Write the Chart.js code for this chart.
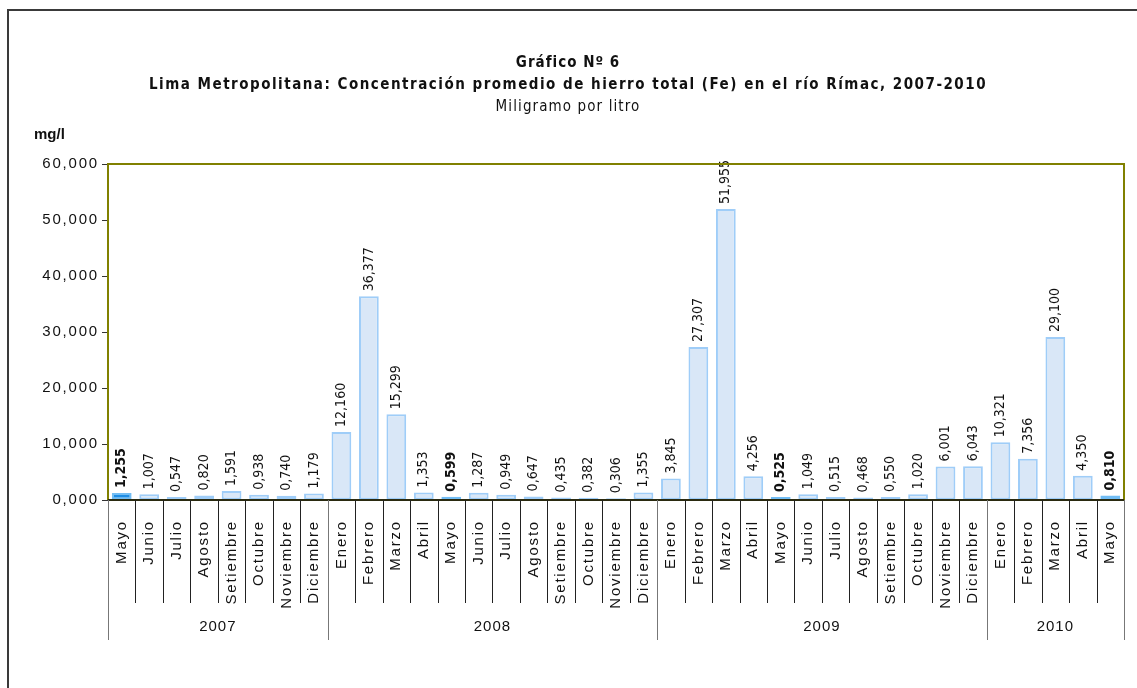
<!DOCTYPE html>
<html><head><meta charset="utf-8">
<script src="https://cdn.jsdelivr.net/npm/chart.js@4/dist/chart.umd.min.js"></script>
<style>html,body{margin:0;padding:0;background:#fff}#wrap{width:1137px;height:688px;position:relative}</style>
</head><body><div id="wrap"><canvas id="c" width="1137" height="688"></canvas></div>
<script>
const months = [
  'Mayo','Junio','Julio','Agosto','Setiembre','Octubre','Noviembre','Diciembre',
  'Enero','Febrero','Marzo','Abril','Mayo','Junio','Julio','Agosto','Setiembre','Octubre','Noviembre','Diciembre',
  'Enero','Febrero','Marzo','Abril','Mayo','Junio','Julio','Agosto','Setiembre','Octubre','Noviembre','Diciembre',
  'Enero','Febrero','Marzo','Abril','Mayo'
];
const values = [
  1.255, 1.007, 0.547, 0.820, 1.591, 0.938, 0.740, 1.179,
  12.160, 36.377, 15.299, 1.353, 0.599, 1.287, 0.949, 0.647, 0.435, 0.382, 0.306, 1.355,
  3.845, 27.307, 51.955, 4.256, 0.525, 1.049, 0.515, 0.468, 0.550, 1.020, 6.001, 6.043,
  10.321, 7.356, 29.100, 4.350, 0.810
];
const years = ['2007','2008','2009','2010'];
const yearSpans = [8, 12, 12, 5];
const yTicks = [0, 10, 20, 30, 40, 50, 60];
const titleLines = ['Gráfico Nº 6', 'Lima Metropolitana: Concentración promedio de hierro total (Fe) en el río Rímac, 2007-2010', 'Miligramo por litro'];
const unitLabel = 'mg/l';

const fmt = v => v.toFixed(3).replace('.', ',');
const isMayo = m => m === 'Mayo';
const NARROW = '"DejaVu Sans Condensed", "Liberation Sans Narrow", Arial';

const decor = {
  id: 'decor',
  beforeDraw(chart) {
    chart.ctx.letterSpacing = '1.8px';
  },
  afterDatasetsDraw(chart) {
    const ctx = chart.ctx;
    const meta = chart.getDatasetMeta(0);
    meta.data.forEach((bar, i) => {
      ctx.save();
      ctx.letterSpacing = '0px';
      ctx.translate(bar.x, bar.y - 5);
      ctx.rotate(-Math.PI / 2);
      ctx.textAlign = 'left';
      ctx.textBaseline = 'middle';
      ctx.fillStyle = '#111';
      ctx.font = (isMayo(months[i]) ? 'bold ' : '') + '14px ' + NARROW;
      ctx.fillText(fmt(values[i]), 0, 0);
      ctx.restore();
    });
  },
  afterDraw(chart) {
    const ctx = chart.ctx;
    const a = chart.chartArea;
    const xs = chart.scales.x;
    ctx.save();
    ctx.letterSpacing = '0px';
    // outer frame
    ctx.strokeStyle = '#3a3a3a';
    ctx.lineWidth = 2;
    ctx.beginPath();
    ctx.moveTo(8, 688); ctx.lineTo(8, 10); ctx.lineTo(1137, 10);
    ctx.stroke();
    // plot border
    ctx.strokeStyle = '#808000';
    ctx.lineWidth = 2;
    ctx.beginPath();
    ctx.moveTo(a.left, a.bottom); ctx.lineTo(a.left, a.top); ctx.lineTo(a.right, a.top); ctx.lineTo(a.right, a.bottom);
    ctx.stroke();
    ctx.strokeStyle = '#2a2a10';
    ctx.beginPath();
    ctx.moveTo(a.left, a.bottom); ctx.lineTo(a.right, a.bottom);
    ctx.stroke();
    // category separators
    const n = months.length;
    const yearBounds = [0];
    yearSpans.forEach(s => yearBounds.push(yearBounds[yearBounds.length - 1] + s));
    ctx.lineWidth = 1;
    for (let i = 0; i <= n; i++) {
      const x = Math.round(xs.getPixelForValue(i - 0.5)) + 0.5;
      const isYear = yearBounds.includes(i);
      ctx.strokeStyle = isYear ? '#777' : '#222';
      ctx.beginPath();
      ctx.moveTo(x, a.bottom);
      ctx.lineTo(x, isYear ? a.bottom + 140 : a.bottom + 103);
      ctx.stroke();
    }
    // year labels
    ctx.letterSpacing = '1px';
    ctx.fillStyle = '#111';
    ctx.font = '15px "Liberation Sans", Arial';
    ctx.textAlign = 'center';
    ctx.textBaseline = 'middle';
    years.forEach((y, k) => {
      const x0 = xs.getPixelForValue(yearBounds[k] - 0.5);
      const x1 = xs.getPixelForValue(yearBounds[k + 1] - 0.5);
      ctx.fillText(y, (x0 + x1) / 2, a.bottom + 127);
    });
    // titles
    ctx.font = 'bold 15px ' + NARROW;
    ctx.letterSpacing = '1px';
    ctx.fillText(titleLines[0], 568, 63);
    ctx.letterSpacing = '1.5px';
    ctx.fillText(titleLines[1], 568, 85);
    ctx.letterSpacing = '1.1px';
    ctx.font = '15px ' + NARROW;
    ctx.fillText(titleLines[2], 568, 107);
    // unit
    ctx.letterSpacing = '0px';
    ctx.textAlign = 'left';
    ctx.font = 'bold 15px "Liberation Sans", Arial';
    ctx.fillText(unitLabel, 34, 135);
    ctx.restore();
  }
};

new Chart(document.getElementById('c'), {
  type: 'bar',
  data: {
    labels: months,
    datasets: [{
      data: values,
      backgroundColor: months.map(m => isMayo(m) ? '#1f8de4' : '#d9e7f7'),
      borderColor: months.map(m => isMayo(m) ? '#72bdf4' : '#9fcdf8'),
      borderWidth: 2,
      borderSkipped: false,
      barPercentage: 0.72,
      categoryPercentage: 1
    }]
  },
  options: {
    responsive: false,
    animation: false,
    devicePixelRatio: 1,
    layout: { padding: { top: 164, left: 0, right: 13, bottom: 48 } },
    plugins: { legend: { display: false }, tooltip: { enabled: false }, title: { display: false } },
    scales: {
      x: {
        grid: { display: false },
        border: { display: false },
        ticks: {
          autoSkip: false, minRotation: 90, maxRotation: 90, padding: 12,
          color: '#111', font: { family: '"Liberation Sans", Arial', size: 15 }
        },
        afterFit: s => { s.height = 140; s.paddingLeft = 0; s.paddingRight = 0; }
      },
      y: {
        min: 0, max: 60,
        afterBuildTicks: s => { s.ticks = yTicks.map(v => ({ value: v })); },
        ticks: {
          padding: 3, color: '#111', font: { family: '"Liberation Sans", Arial', size: 15 },
          callback: v => fmt(v)
        },
        grid: { drawOnChartArea: false, drawTicks: true, tickLength: 6, color: '#333' },
        border: { display: false },
        afterFit: s => { s.width = 108; s.paddingTop = 0; s.paddingBottom = 0; }
      }
    }
  },
  plugins: [decor]
});
</script>
</body></html>
